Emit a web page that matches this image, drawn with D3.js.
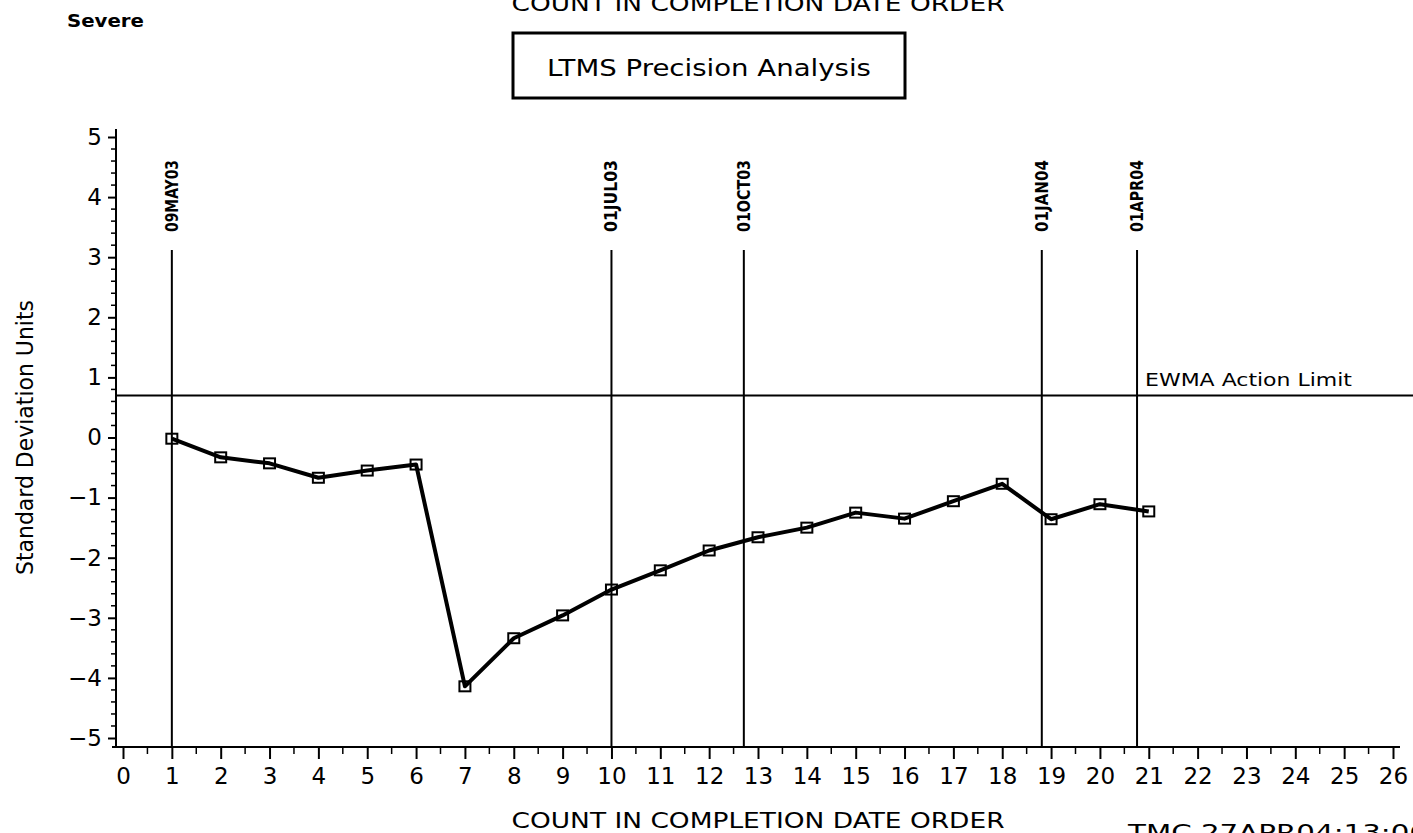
<!DOCTYPE html>
<html>
<head>
<meta charset="utf-8">
<script src="https://cdn.jsdelivr.net/npm/d3@7"></script>
<style>
  body { margin: 0; background: #fff; }
  svg { display: block; }
  text { font-family: "DejaVu Sans", "Liberation Sans", sans-serif; fill: #000; }
</style>
</head>
<body>
<div id="chart"></div>
<script>
// Data
const counts = [1, 2, 3, 4, 5, 6, 7, 8, 9, 10, 11, 12, 13, 14, 15, 16, 17, 18, 19, 20, 21];
const ewmaValues = [-0.02, -0.33, -0.43, -0.67, -0.55, -0.45, -4.14, -3.34, -2.96, -2.53, -2.21,
                    -1.88, -1.66, -1.50, -1.25, -1.35, -1.06, -0.77, -1.36, -1.11, -1.23];
const refPositions = [1, 10, 12.71, 18.81, 20.76];
const refLabels = ["09MAY03", "01JUL03", "01OCT03", "01JAN04", "01APR04"];
const actionLimit = 0.70;
const xTicks = d3.range(0, 27);
const yTicks = [-5, -4, -3, -2, -1, 0, 1, 2, 3, 4, 5];

const W = 1413, H = 833;

const svg = d3.select("#chart")
    .append("svg")
    .attr("width", W)
    .attr("height", H);

// Scales
const x = d3.scaleLinear().domain([0, 26]).range([123, 1393]);
const y = d3.scaleLinear().domain([-5, 5]).range([738, 137]);

const axisX = 116;   // y axis line position
const axisY = 747;   // x axis line position

// stretch a text to a given width
function fit(sel, len) {
    sel.attr("textLength", len).attr("lengthAdjust", "spacingAndGlyphs");
}

// Top (clipped) repeated label and header texts
svg.append("text")
    .attr("x", 758).attr("y", 11)
    .attr("text-anchor", "middle")
    .style("font-size", "22px")
    .call(fit, 493)
    .text("COUNT IN COMPLETION DATE ORDER");

svg.append("text")
    .attr("x", 67).attr("y", 27)
    .style("font-size", "17px")
    .style("font-weight", "bold")
    .call(fit, 77)
    .text("Severe");

// Title box
svg.append("rect")
    .attr("x", 513).attr("y", 33)
    .attr("width", 392).attr("height", 65)
    .attr("fill", "none")
    .attr("stroke", "#000")
    .attr("stroke-width", 3);

svg.append("text")
    .attr("x", 709).attr("y", 76)
    .attr("text-anchor", "middle")
    .style("font-size", "23px")
    .call(fit, 324)
    .text("LTMS Precision Analysis");

// Y axis
const yAxis = d3.axisLeft(y)
    .tickValues(yTicks)
    .tickSize(8)
    .tickPadding(6)
    .tickFormat(d => d < 0 ? "\u2212" + Math.abs(d) : d);

const gy = svg.append("g")
    .attr("transform", `translate(${axisX},0)`)
    .call(yAxis);
gy.select(".domain").remove();
gy.selectAll("line").attr("stroke", "#000").attr("stroke-width", 2);
gy.selectAll("text").style("font-size", "23px").style("font-family", "DejaVu Sans, sans-serif");

// y minor ticks
const yMinor = d3.range(-5, 5.001, 0.2).filter(v => Math.abs(v - Math.round(v)) > 1e-6);
svg.append("g").selectAll("line")
    .data(yMinor)
    .join("line")
    .attr("x1", axisX - 5).attr("x2", axisX)
    .attr("y1", d => y(d)).attr("y2", d => y(d))
    .attr("stroke", "#000").attr("stroke-width", 1.5);

svg.append("line")
    .attr("x1", axisX).attr("x2", axisX)
    .attr("y1", 129).attr("y2", axisY)
    .attr("stroke", "#000").attr("stroke-width", 2);

// X axis
const xAxis = d3.axisBottom(x)
    .tickValues(xTicks)
    .tickSize(12)
    .tickPadding(9)
    .tickFormat(d3.format("d"));

const gx = svg.append("g")
    .attr("transform", `translate(0,${axisY})`)
    .call(xAxis);
gx.select(".domain").remove();
gx.selectAll("line").attr("stroke", "#000").attr("stroke-width", 2);
gx.selectAll("text").style("font-size", "23px").style("font-family", "DejaVu Sans, sans-serif");

// x minor ticks
svg.append("g").selectAll("line")
    .data(d3.range(0.5, 26, 1))
    .join("line")
    .attr("x1", d => x(d)).attr("x2", d => x(d))
    .attr("y1", axisY).attr("y2", axisY + 7)
    .attr("stroke", "#000").attr("stroke-width", 1.5);

svg.append("line")
    .attr("x1", 112).attr("x2", 1400)
    .attr("y1", axisY).attr("y2", axisY)
    .attr("stroke", "#000").attr("stroke-width", 2);

// Axis labels
svg.append("text")
    .attr("transform", `translate(33,${y(0)}) rotate(-90)`)
    .attr("text-anchor", "middle")
    .style("font-size", "23px")
    .call(fit, 275)
    .text("Standard Deviation Units");

svg.append("text")
    .attr("x", 758).attr("y", 828)
    .attr("text-anchor", "middle")
    .style("font-size", "22px")
    .call(fit, 493)
    .text("COUNT IN COMPLETION DATE ORDER");

svg.append("text")
    .attr("x", 1128).attr("y", 840)
    .style("font-size", "22px")
    .call(fit, 300)
    .text("TMC  27APR04:13:06");

// EWMA action limit
svg.append("line")
    .attr("x1", axisX).attr("x2", W)
    .attr("y1", y(actionLimit)).attr("y2", y(actionLimit))
    .attr("stroke", "#000").attr("stroke-width", 2);

svg.append("text")
    .attr("x", 1145).attr("y", y(actionLimit) - 9)
    .style("font-size", "17px")
    .call(fit, 207)
    .text("EWMA Action Limit");

// Date reference lines
const refs = refPositions.map((p, i) => ({ pos: p, label: refLabels[i] }));

svg.append("g").selectAll("line")
    .data(refs)
    .join("line")
    .attr("x1", d => x(d.pos)).attr("x2", d => x(d.pos))
    .attr("y1", 250).attr("y2", axisY)
    .attr("stroke", "#000").attr("stroke-width", 2);

svg.append("g").selectAll("text")
    .data(refs)
    .join("text")
    .attr("transform", d => `translate(${x(d.pos) + 6},232) rotate(-90)`)
    .style("font-size", "17px")
    .style("font-weight", "bold")
    .call(fit, 72)
    .text(d => d.label);

// EWMA series
const points = counts.map((c, i) => ({ c: c, v: ewmaValues[i] }));

svg.append("path")
    .datum(points)
    .attr("fill", "none")
    .attr("stroke", "#000")
    .attr("stroke-width", 4)
    .attr("stroke-linejoin", "round")
    .attr("d", d3.line().x(d => x(d.c)).y(d => y(d.v)));

svg.append("g").selectAll("rect")
    .data(points)
    .join("rect")
    .attr("x", d => x(d.c) - 5.5)
    .attr("y", d => y(d.v) - 5)
    .attr("width", 11)
    .attr("height", 10)
    .attr("fill", "none")
    .attr("stroke", "#000")
    .attr("stroke-width", 2);
</script>
</body>
</html>
